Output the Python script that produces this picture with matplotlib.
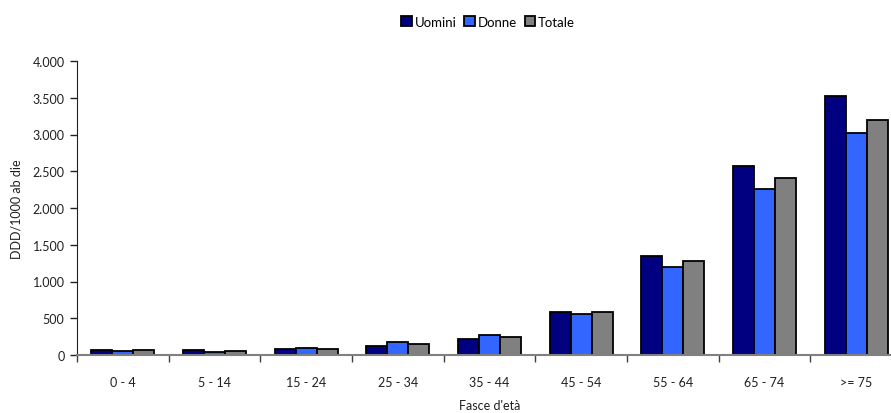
import numpy as np
import matplotlib.pyplot as plt
from matplotlib.ticker import FuncFormatter, FixedLocator

plt.rcParams['font.family'] = ['Lato', 'DejaVu Sans']

fasce = ['0 - 4', '5 - 14', '15 - 24', '25 - 34', '35 - 44',
         '45 - 54', '55 - 64', '65 - 74', '>= 75']
uomini = [70, 65, 80, 125, 218, 580, 1350, 2567, 3520]
donne = [55, 45, 100, 180, 272, 562, 1197, 2258, 3020]
totale = [65, 60, 80, 155, 240, 580, 1280, 2404, 3201]

serie = [('Uomini', uomini, '#000080'),
         ('Donne', donne, '#3366FF'),
         ('Totale', totale, '#808080')]

fig = plt.figure(figsize=(8.91, 4.14), dpi=100)
ax = fig.add_axes([77 / 891, 58 / 414, 825 / 891, 294 / 414])

x = np.arange(len(fasce))
w = 0.228
for i, (nome, valori, colore) in enumerate(serie):
    ax.bar(x + (i - 1) * w, valori, w, color=colore, edgecolor='black',
           linewidth=1.3, label=nome)

ax.set_xlim(-0.5, len(fasce) - 0.5)
ax.set_ylim(0, 4000)
ax.set_yticks(np.arange(0, 4001, 500))
ax.yaxis.set_major_formatter(FuncFormatter(lambda v, p: f'{int(v):,}'.replace(',', '.')))

# etichette centrate sulle categorie, tacche tra un gruppo e l'altro
ax.set_xticks(x)
ax.set_xticklabels(fasce)
ax.xaxis.set_minor_locator(FixedLocator(np.arange(-0.5, len(fasce), 1.0)))
ax.tick_params(axis='x', which='major', length=0, pad=15, labelsize=9, colors='#202020')
ax.tick_params(axis='x', which='minor', length=5, width=1, color='#404040')
ax.tick_params(axis='y', length=5, width=1, labelsize=9, pad=4, colors='#202020')

for s in ['top', 'right']:
    ax.spines[s].set_visible(False)
ax.spines['left'].set_color('#202020')
ax.spines['bottom'].set_color('#808080')
ax.spines['bottom'].set_linewidth(1.5)

ax.set_xlabel("Fasce d'età", fontsize=9, labelpad=8, color='#202020')
ax.set_ylabel('DDD/1000 ab die', fontsize=9, labelpad=7, color='#202020')

fig.legend(loc='upper center', bbox_to_anchor=(488 / 891, 0.988), ncol=3,
           frameon=False, fontsize=9.5, handlelength=0.8, handleheight=0.8,
           handletextpad=0.2, columnspacing=0.6)

fig.savefig('out.png', dpi=100)
